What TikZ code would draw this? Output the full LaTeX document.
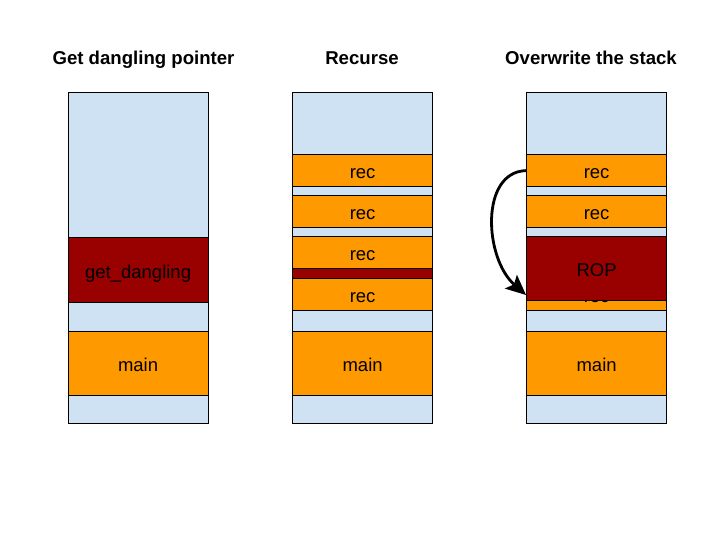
\documentclass[tikz,border=0pt]{standalone}
\usepackage{fontspec}
\setmainfont{Liberation Sans}
\usetikzlibrary{arrows.meta}
\definecolor{stackblue}{HTML}{CFE2F3}
\definecolor{framorange}{HTML}{FF9900}
\definecolor{framred}{HTML}{990000}
\tikzset{
  stackcol/.style={draw, fill=stackblue, line width=1.2pt, minimum width=140pt,
    minimum height=331pt, anchor=north west, inner sep=0pt},
  frame/.style={draw, line width=1.2pt, minimum width=140pt, anchor=north west,
    inner sep=0pt, text height=16.5pt, text depth=0pt, font=\fontsize{18.5}{20}\selectfont},
  recframe/.style={frame, fill=framorange, minimum height=32pt},
  mainframe/.style={frame, fill=framorange, minimum height=64pt},
  badframe/.style={frame, fill=framred},
  coltitle/.style={anchor=base, font=\bfseries\fontsize{18.6}{20}\selectfont}
}
\begin{document}
\begin{tikzpicture}[x=1pt,y=-1pt]
  \useasboundingbox (0,0) rectangle (720,540);
  % column titles
  \node[coltitle] (t1) at (143.5,64.5) {Get dangling pointer};
  \node[coltitle] (t2) at (362,64.5) {Recurse};
  \node[coltitle] (t3) at (591,64.5) {Overwrite the stack};
  % get dangling pointer
  \node[stackcol] (s1) at (67.5,92) {};
  \node[badframe, minimum height=65pt] (dang) at (67.5,237) {get\_dangling};
  \node[mainframe] (main1) at (67.5,331) {main};
  % recurse
  \node[stackcol] (s2) at (292,92) {};
  \node[recframe] (r21) at (292,154) {rec};
  \node[recframe] (r22) at (292,195) {rec};
  \node[recframe] (r23) at (292,236) {rec};
  \node[badframe, minimum height=10pt, text height=0pt] (ptr2) at (292,268) {};
  \node[recframe] (r24) at (292,278) {rec};
  \node[mainframe] (main2) at (292,331) {main};
  % overwrite the stack
  \node[stackcol] (s3) at (526,92) {};
  \node[recframe] (r31) at (526,154) {rec};
  \node[recframe] (r32) at (526,195) {rec};
  \node[recframe] (r34) at (526,278) {rec};
  \node[badframe, minimum height=64pt] (rop) at (526,236) {ROP};
  \node[mainframe] (main3) at (526,331) {main};
  \coordinate (ropin) at (526,295);
  \draw[line width=2.8pt, -{Stealth[length=20pt,width=18pt,inset=4pt]}]
    (r31.west) .. controls (480,172) and (484,258) .. (ropin);
\end{tikzpicture}
\end{document}
